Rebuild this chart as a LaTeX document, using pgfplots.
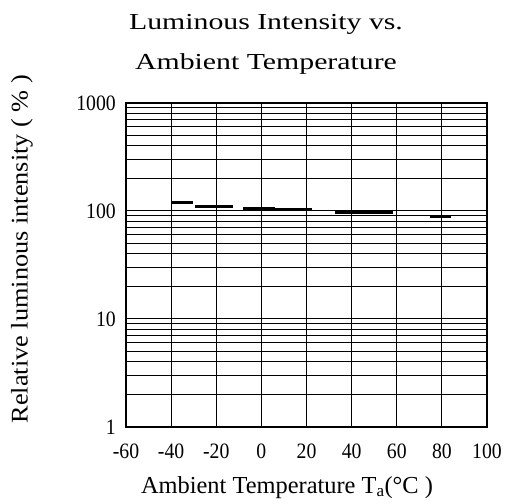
\documentclass[border=0pt]{standalone}
\usepackage{fontspec}
\setmainfont{Liberation Serif}
\newfontfamily\titlefont[FakeStretch=1.3]{Liberation Serif}
\newfontfamily\tickfont[FakeStretch=0.9]{Liberation Serif}
\newfontfamily\ylabfont[FakeStretch=1.1]{Liberation Serif}
\usepackage{pgfplots}
\pgfplotsset{compat=1.18}

% steps of the curve, nan breaks the line
\pgfplotstableread{
x      y
-39.6  118.6
-30.3  118.6
nan    nan
-29.4  110
-12.6  110
nan    nan
-8.1   105.5
5.2    105.5
5.2    103
22.4   103
nan    nan
32.6   96
58.3   96
nan    nan
74.8   88
84.1   88
}\lumdata

\begin{document}
\begin{tikzpicture}
\begin{axis}[
    at={(0,0)}, anchor=south west,
    scale only axis,
    width=361bp, height=324bp,
    xmin=-60, xmax=100,
    ymode=log, ymin=1, ymax=1000,
    xtick={-60,-40,...,100},
    xticklabels={-60,-40,-20,0,20,40,60,80,100},
    ytick={1,10,100,1000},
    yticklabels={1,10,100,1000},
    major tick length=0pt, minor tick length=0pt,
    xmajorgrids, ymajorgrids, yminorgrids,
    grid style={black, line width=1bp},
    minor grid style={black, line width=1bp},
    axis line style={black, line width=1.4bp},
    ticklabel style={font=\tickfont\fontsize{22}{24}\selectfont, inner sep=0pt},
    xticklabel style={anchor=north, yshift=-17bp},
    yticklabel style={anchor=east, xshift=-10bp},
    xlabel={Ambient Temperature T\textsubscript{a}(°C )},
    x label style={font=\fontsize{24.5}{27}\selectfont, at={(axis description cs:0.446,-0.204)}, anchor=base},
    ylabel={Relative luminous intensity ( \% )},
    y label style={font=\ylabfont\fontsize{24}{27}\selectfont, at={(axis description cs:-0.288,0.549)}, anchor=center},
    unbounded coords=jump,
]
\addplot[black, line width=3bp, no markers] table[x=x, y=y] {\lumdata};
\end{axis}
\node[anchor=base, font=\titlefont\fontsize{23}{26}\selectfont] at (140bp,397bp) {Luminous Intensity vs.};
\node[anchor=base, font=\titlefont\fontsize{23}{26}\selectfont] at (140bp,357bp) {Ambient Temperature};
\path[use as bounding box] (-126bp,-77bp) rectangle (379bp,427bp);
\end{tikzpicture}
\end{document}
